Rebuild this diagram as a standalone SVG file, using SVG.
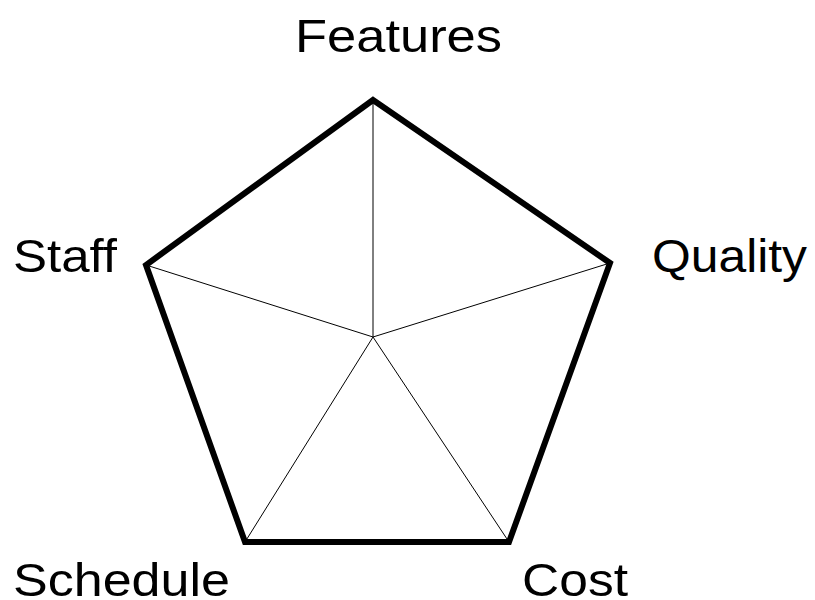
<svg xmlns="http://www.w3.org/2000/svg" width="815" height="600" viewBox="0 0 815 600">
<style>
.lbl{font-family:"Liberation Sans",Arial,sans-serif;font-size:46px;fill:#000}
.spoke{stroke:#000;stroke-width:1;fill:none}
.outline{stroke:#000;stroke-width:6;fill:none;stroke-linejoin:miter}
</style>
<rect width="815" height="600" fill="#fff"/>
<g id="connectors">
<line class="spoke" x1="373" y1="337" x2="373" y2="100"/>
<line class="spoke" x1="373" y1="337" x2="610" y2="263"/>
<line class="spoke" x1="373" y1="337" x2="509" y2="542"/>
<line class="spoke" x1="373" y1="337" x2="245" y2="542"/>
<line class="spoke" x1="373" y1="337" x2="146" y2="265"/>
<polygon class="outline" points="373,100 610,263 509,542 245,542 146,265"/>
</g>
<g id="features"><text class="lbl" x="295" y="52" textLength="207" lengthAdjust="spacingAndGlyphs">Features</text></g>
<g id="quality"><text class="lbl" x="652" y="272" textLength="155" lengthAdjust="spacingAndGlyphs">Quality</text></g>
<g id="staff"><text class="lbl" x="13" y="272" textLength="104" lengthAdjust="spacingAndGlyphs">Staff</text></g>
<g id="schedule"><text class="lbl" x="13" y="596" textLength="217" lengthAdjust="spacingAndGlyphs">Schedule</text></g>
<g id="cost"><text class="lbl" x="522" y="596" textLength="106" lengthAdjust="spacingAndGlyphs">Cost</text></g>
</svg>
